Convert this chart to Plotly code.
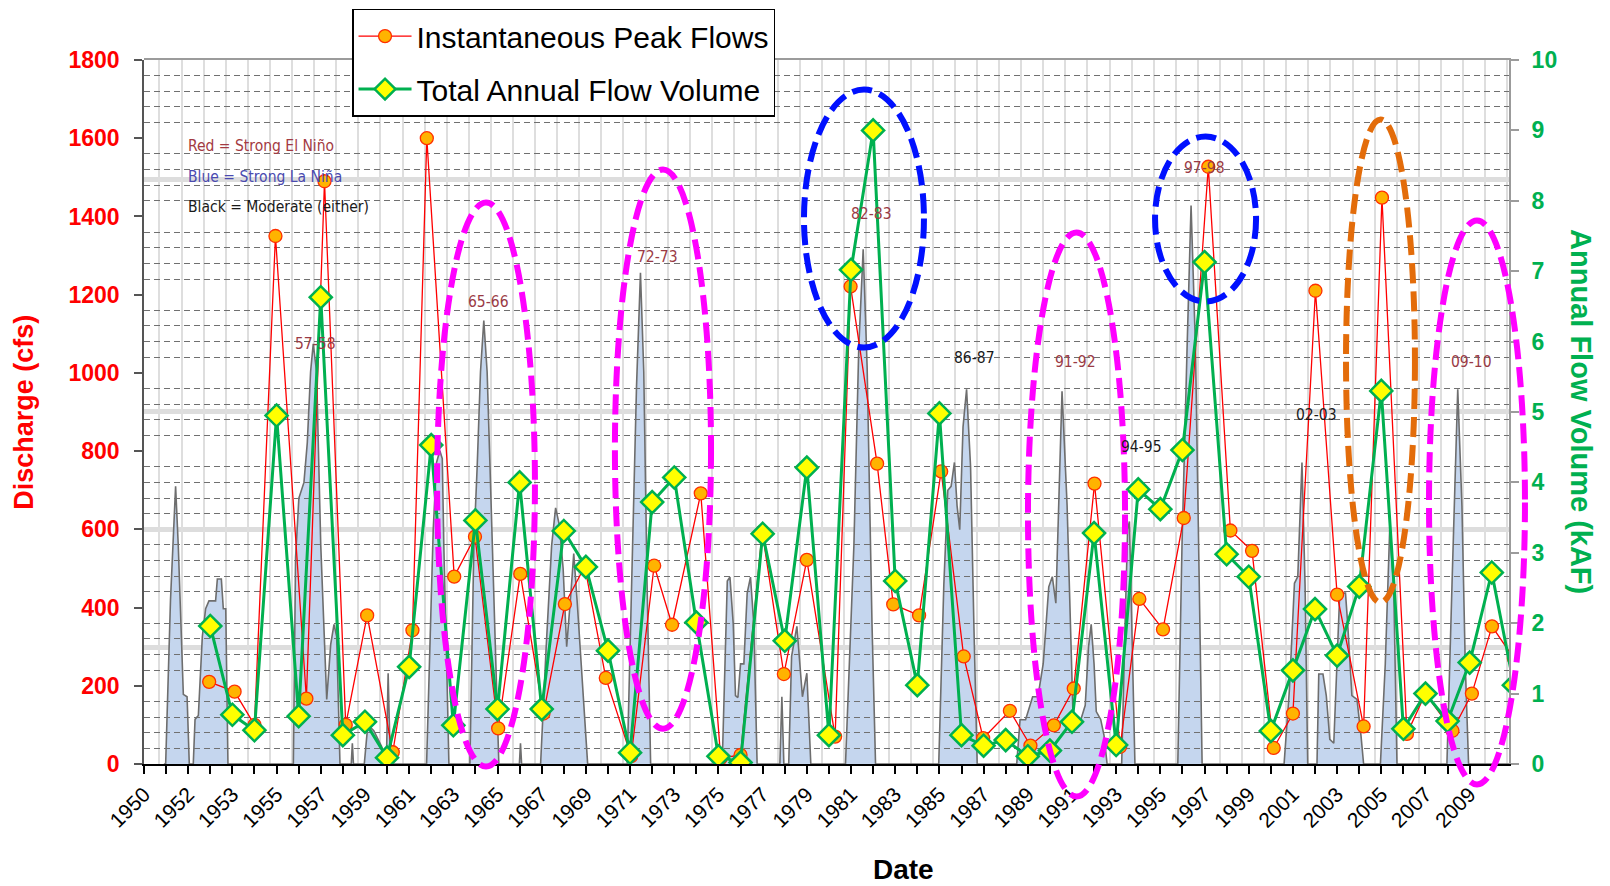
import plotly.graph_objects as go

# ---------------- data ----------------
tick_labels = ["1950", "1952", "1953", "1955", "1957", "1959", "1961", "1963", "1965", "1967",
               "1969", "1971", "1973", "1975", "1977", "1979", "1981", "1983", "1985", "1987",
               "1989", "1991", "1993", "1995", "1997", "1999", "2001", "2003", "2005", "2007", "2009"]

# Instantaneous peak flows (cfs) at date of peak (decimal year)
peak_dates = [1952.95, 1954.10, 1955.00, 1955.95, 1957.35, 1958.17, 1959.13, 1960.10, 1961.26, 1962.15,
              1962.80, 1964.04, 1964.98, 1966.03, 1967.03, 1968.08, 1969.05, 1969.95, 1970.90, 1972.05,
              1973.09, 1973.90, 1975.20, 1976.10, 1977.00, 1977.98, 1978.96, 1980.00, 1981.28, 1981.98,
              1983.18, 1983.91, 1985.08, 1986.08, 1987.10, 1987.98, 1989.19, 1990.12, 1991.18, 1992.08,
              1993.02, 1994.18, 1995.05, 1996.12, 1997.06, 1998.17, 1999.17, 2000.15, 2001.13, 2002.00,
              2003.02, 2004.00, 2005.20, 2006.03, 2007.16, 2008.00, 2009.22, 2010.10, 2011.01, 2012.00]
peak_cfs = [210, 185, 100, 1350, 167, 1490, 100, 380, 30, 342,
            1600, 479, 581, 91, 486, 129, 409, 505, 220, 20,
            507, 356, 692, 15, 23, 594, 230, 522, 70, 1221,
            768, 408, 380, 748, 275, 66, 136, 47, 99, 193,
            717, 44, 422, 344, 629, 1527, 597, 545, 41, 129,
            1210, 433, 96, 1448, 77, 180, 85, 180, 352, 270]

# Total annual flow volume (kAF) per water year
vol_years = [1953, 1954, 1955, 1956, 1957, 1958, 1959, 1960, 1961, 1962,
             1963, 1964, 1965, 1966, 1967, 1968, 1969, 1970, 1971, 1972,
             1973, 1974, 1975, 1976, 1977, 1978, 1979, 1980, 1981, 1982,
             1983, 1984, 1985, 1986, 1987, 1988, 1989, 1990, 1991, 1992,
             1993, 1994, 1995, 1996, 1997, 1998, 1999, 2000, 2001, 2002,
             2003, 2004, 2005, 2006, 2007, 2008, 2009, 2010, 2011, 2012]
vol_kaf = [1.96, 0.70, 0.48, 4.95, 0.68, 6.63, 0.41, 0.60, 0.09, 1.38,
           4.53, 0.55, 3.46, 0.78, 4.00, 0.78, 3.31, 2.80, 1.61, 0.16,
           3.72, 4.07, 2.01, 0.11, 0.02, 3.27, 1.75, 4.21, 0.41, 7.02,
           9.00, 2.60, 1.12, 4.98, 0.41, 0.26, 0.34, 0.11, 0.19, 0.60,
           3.28, 0.27, 3.90, 3.62, 4.46, 7.13, 2.98, 2.66, 0.47, 1.33,
           2.20, 1.54, 2.52, 5.30, 0.50, 1.00, 0.61, 1.44, 2.72, 1.12]

# Background flow record (cfs) drawn behind the series
bg_year = [1950.90, 1950.98, 1951.20, 1951.35, 1951.43, 1951.55, 1951.78, 1951.95, 1952.05,
           1952.23, 1952.31, 1952.46, 1952.64, 1952.79, 1952.94, 1953.24, 1953.32, 1953.50, 1953.59, 1953.70, 1953.80,
           1956.76, 1956.86, 1957.01, 1957.24, 1957.39, 1957.54, 1957.66, 1957.81, 1958.00, 1958.14, 1958.27,
           1958.45, 1958.60, 1958.72, 1958.87,
           1959.38, 1959.43, 1959.48,
           1959.97, 1960.13, 1960.40, 1960.75, 1960.90, 1960.97, 1961.05, 1961.15,
           1962.79, 1962.94, 1963.09, 1963.24, 1963.39, 1963.50, 1963.57, 1963.70, 1963.80,
           1964.75, 1964.93, 1965.08, 1965.23, 1965.38, 1965.53, 1965.66, 1965.81, 1965.96, 1966.06,
           1966.99, 1967.04, 1967.09,
           1967.95, 1968.20, 1968.45, 1968.63, 1968.80, 1968.97, 1969.13, 1969.30, 1969.45, 1969.60,
           1969.80, 1969.95, 1970.08,
           1971.87, 1972.10, 1972.29, 1972.47, 1972.62, 1972.77, 1972.93,
           1976.17, 1976.40, 1976.52, 1976.67, 1976.77, 1976.88, 1977.00, 1977.15, 1977.30, 1977.45,
           1977.60, 1977.75,
           1978.78, 1978.87, 1978.96,
           1979.18, 1979.31, 1979.55, 1979.80, 1980.00, 1980.18,
           1981.75, 1982.13, 1982.35, 1982.55, 1982.73, 1982.95, 1983.11,
           1985.97, 1986.20, 1986.38, 1986.53, 1986.68, 1986.80, 1986.92, 1987.07, 1987.23, 1987.41,
           1987.56, 1987.71,
           1989.50, 1989.65, 1989.90, 1990.22, 1990.46, 1990.70, 1990.95, 1991.11, 1991.27, 1991.55,
           1991.78, 1991.95, 1992.05, 1992.40, 1992.60, 1992.75, 1992.87, 1993.00, 1993.10, 1993.30,
           1993.45, 1993.59,
           1994.25, 1994.40, 1994.52, 1994.60, 1994.72, 1994.85,
           1996.79, 1996.98, 1997.21, 1997.39, 1997.59, 1997.74, 1997.89,
           2001.60, 2001.84, 2002.07, 2002.22, 2002.41, 2002.55, 2002.67,
           2003.09, 2003.17, 2003.36, 2003.51, 2003.67, 2003.85, 2004.00, 2004.12, 2004.38, 2004.48,
           2004.67, 2004.90, 2005.08, 2005.20,
           2005.96, 2006.18, 2006.38, 2006.56, 2006.71,
           2008.97, 2009.20, 2009.35, 2009.46, 2009.65, 2009.80, 2009.95,
           2011.78]
bg_cfs = [0, 0, 420, 640, 710, 560, 178, 172, 0,
          0, 114, 124, 326, 397, 417, 417, 473, 473, 397, 397, 0,
          0, 528, 680, 720, 821, 1003, 1074, 1003, 559, 326, 165,
          306, 357, 326, 0,
          0, 53, 0,
          0, 100, 85, 45, 15, 5, 232, 0,
          0, 316, 599, 771, 801, 781, 559, 255, 0,
          0, 559, 761, 1003, 1134, 1003, 761, 458, 155, 0,
          0, 53, 0,
          0, 296, 559, 655, 610, 500, 300, 420, 538, 420,
          240, 120, 0,
          0, 559, 963, 1256, 1003, 458, 0,
          0, 468, 478, 357, 175, 170, 256, 256, 437, 478,
          357, 0,
          0, 172, 0,
          0, 275, 352, 172, 232, 0,
          0, 559, 1064, 1316, 1013, 357, 0,
          0, 458, 700, 710, 771, 660, 599, 862, 958, 761,
          357, 0,
          0, 113, 113, 172, 172, 257, 453, 479, 411, 953,
          660, 300, 120, 113, 150, 300, 357, 256, 134, 114,
          73, 0,
          0, 350, 600, 620, 300, 0,
          0, 559, 1064, 1428, 1064, 559, 0,
          0, 189, 462, 479, 771, 458, 0,
          0, 230, 230, 175, 63, 53, 256, 437, 437, 357,
          175, 165, 73, 0,
          0, 255, 599, 458, 0,
          0, 458, 761, 958, 660, 256, 0,
          0]

# ENSO event labels on the background record
event_text = ["57-58", "65-66", "72-73", "82-83", "86-87", "91-92", "94-95", "97-98", "02-03", "09-10"]
event_year = [1957.74, 1965.61, 1973.26, 1982.94, 1987.60, 1992.16, 1995.16, 1998.01, 2003.08, 2010.07]
event_cfs = [1074, 1181, 1296, 1407, 1039, 1029, 811, 1524, 892, 1029]
event_kind = ["strong", "strong", "strong", "strong", "moderate", "strong", "moderate", "strong", "moderate", "strong"]

key_text = ["Red = Strong El Niño", "Blue = Strong La Niña", "Black = Moderate (either)"]
key_cfs = [1579, 1502, 1425]

# ---------------- styling ----------------
FONT = "Liberation Sans, Arial, sans-serif"
NARROW = "Liberation Sans Narrow, DejaVu Sans Condensed, sans-serif"
RED = "#ff0000"
GREEN = "#00b050"
X_RANGE = [1950, 2011.78]

tick_pos = [1950 + k for k in range(61)]
tick_txt = [tick_labels[k // 2] if k % 2 == 0 else "" for k in range(61)]

fig = go.Figure()

fig.add_trace(go.Scatter(
    x=bg_year, y=bg_cfs, xaxis="x", yaxis="y", mode="lines",
    line=dict(color="#6e6e6e", width=1.6), fill="tozeroy", fillcolor="#c5d6ee",
    hoverinfo="skip", showlegend=False))

fig.add_trace(go.Scatter(
    x=peak_dates, y=peak_cfs, xaxis="x2", yaxis="y2", mode="lines+markers",
    name="Instantaneous Peak Flows", legendgroup="a",
    line=dict(color=RED, width=1.3),
    marker=dict(symbol="circle", size=13, color="#ffb300", line=dict(color="#ff3000", width=1.3))))

fig.add_trace(go.Scatter(
    x=vol_years, y=vol_kaf, xaxis="x2", yaxis="y3", mode="lines+markers",
    name="Total Annual Flow Volume", legendgroup="b",
    line=dict(color=GREEN, width=3),
    marker=dict(symbol="diamond", size=17, color="#ffff00", line=dict(color=GREEN, width=2.5))))

shapes = []
for yb in [0.8303, 0.5007, 0.3331, 0.1655]:
    shapes.append(dict(type="line", xref="paper", yref="paper", x0=0, x1=1, y0=yb, y1=yb,
                       line=dict(color="rgba(180,180,180,0.45)", width=5), layer="below"))

# dashed highlight ellipses (paper coordinates)
ellipses = [
    (0.2147, 0.2864, -0.0036, 0.7976, "#ff00ff"),
    (0.3450, 0.4154, 0.0500, 0.8445, "#ff00ff"),
    (0.4835, 0.5714, 0.5916, 0.9580, "#0010ff"),
    (0.6476, 0.7187, -0.0462, 0.7550, "#ff00ff"),
    (0.7407, 0.8147, 0.6570, 0.8913, "#0010ff"),
    (0.8806, 0.9311, 0.2294, 0.9155, "#e36c0a"),
    (0.9414, 1.0117, -0.0290, 0.7720, "#ff00ff"),
]
for x0, x1, y0, y1, col in ellipses:
    shapes.append(dict(type="circle", xref="paper", yref="paper", x0=x0, x1=x1, y0=y0, y1=y1,
                       line=dict(color=col, width=6, dash="20px,8px"), layer="above"))

annotations = []
key_colors = ["#a33a42", "#4a4ab0", "#1a1a1a"]
for t, c, col in zip(key_text, key_cfs, key_colors):
    annotations.append(dict(text=t, x=1951.9, y=c, xref="x2", yref="y2", xanchor="left",
                            yanchor="middle", showarrow=False,
                            font=dict(family=NARROW, size=15.5, color=col)))
for t, xv, yv, kind in zip(event_text, event_year, event_cfs, event_kind):
    col = "#9a3a44" if kind == "strong" else "#1a1a1a"
    annotations.append(dict(text=t, x=xv, y=yv, xref="x2", yref="y2", xanchor="center",
                            yanchor="middle", showarrow=False,
                            font=dict(family=NARROW, size=15.5, color=col)))

annotations.append(dict(text="<b>Discharge (cfs)</b>", x=-0.0879, y=0.499, xref="paper", yref="paper",
                        textangle=-90, showarrow=False, xanchor="center", yanchor="middle",
                        font=dict(family=FONT, size=27, color=RED)))
annotations.append(dict(text="<b>Annual Flow Volume (kAF)</b>", x=1.0527, y=0.5, xref="paper", yref="paper",
                        textangle=90, showarrow=False, xanchor="center", yanchor="middle",
                        font=dict(family=FONT, size=29, color=GREEN)))
annotations.append(dict(text="<b>Date</b>", x=0.5565, y=-0.1499, xref="paper", yref="paper",
                        showarrow=False, xanchor="center", yanchor="middle",
                        font=dict(family=FONT, size=28, color="#000000")))

# the page body has an 8px default margin: margins compensate so the plot lands in place
fig.update_layout(
    width=1610, height=886,
    margin=dict(l=136, r=109, t=52, b=130, autoexpand=False),
    paper_bgcolor="white", plot_bgcolor="rgba(0,0,0,0)",
    font=dict(family=FONT),
    xaxis=dict(domain=[0, 1], anchor="y", range=X_RANGE, tick0=1950.7, dtick=1,
               showgrid=True, gridcolor="#dedede", gridwidth=2, showticklabels=False, ticks="",
               zeroline=False, showline=True, side="top", linecolor="#9b9b9b", linewidth=2),
    yaxis=dict(domain=[0, 1], anchor="x", range=[0, 1800], showgrid=False, showticklabels=False,
               ticks="", zeroline=False, showline=True, side="right", linecolor="#9b9b9b", linewidth=2),
    xaxis2=dict(domain=[0, 1], anchor="y2", range=X_RANGE, tickmode="array", tickvals=tick_pos,
                ticktext=tick_txt, tickangle=-45, ticks="outside", ticklen=8, tickwidth=1.5,
                tickcolor="#000", showline=True, linecolor="#000", linewidth=1.5, showgrid=False,
                zeroline=False, tickfont=dict(family=FONT, size=21, color="#000")),
    yaxis2=dict(domain=[0, 1], anchor="x2", range=[0, 1800], tickmode="linear", tick0=0, dtick=200,
                ticks="outside", ticklen=8, tickwidth=1.5, tickcolor="#555", showline=True,
                linecolor="#555", linewidth=1.5, showgrid=False, ticklabelstandoff=10,
                zeroline=False, tickfont=dict(family=FONT, size=23, color=RED, weight="bold"),
                minor=dict(dtick=40, tick0=0, showgrid=True, gridcolor="#707070", gridwidth=1,
                           griddash="6px,4px", ticks="")),
    yaxis4=dict(overlaying="y2", anchor="x2", side="left", range=[0, 1800], tickmode="array",
                tickvals=[200, 400, 600, 800, 1000, 1200, 1400, 1600], showticklabels=False,
                ticks="", showline=False, zeroline=False, showgrid=True, gridcolor="#1e1e1e",
                gridwidth=1.4),
    yaxis3=dict(overlaying="y2", anchor="x2", side="right", range=[0, 10], tickmode="linear", tick0=0,
                dtick=1, ticks="outside", ticklen=8, tickwidth=1.5, tickcolor="#9b9b9b", showline=True,
                linecolor="#9b9b9b", linewidth=2, showgrid=False, zeroline=False, ticklabelstandoff=8,
                tickfont=dict(family=FONT, size=23, color=GREEN, weight="bold")),
    legend=dict(x=0.1524, y=1.073, xanchor="left", yanchor="top", bgcolor="white",
                bordercolor="black", borderwidth=1.5, itemwidth=53, tracegroupgap=11,
                font=dict(family=FONT, size=30, color="#000")),
    shapes=shapes, annotations=annotations,
)

fig.write_html("out.html")
